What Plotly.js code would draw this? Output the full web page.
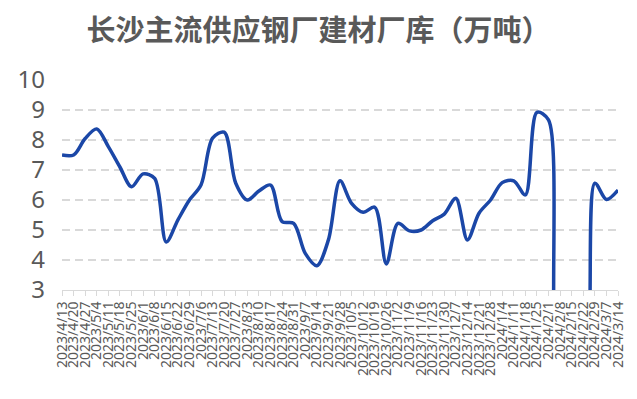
<!DOCTYPE html>
<html>
<head>
<meta charset="utf-8">
<script src="https://cdn.plot.ly/plotly-3.0.1.min.js"></script>
<style>
html,body{margin:0;padding:0;background:#fff;}
#chart{width:637px;height:399px;}
</style>
</head>
<body>
<div id="chart"></div>
<script>
const chartTitle = '长沙主流供应钢厂建材厂库（万吨）';

const dates = [
  '2023/4/13','2023/4/20','2023/4/27','2023/5/4','2023/5/11','2023/5/18','2023/5/25',
  '2023/6/1','2023/6/8','2023/6/15','2023/6/22','2023/6/29','2023/7/6','2023/7/13',
  '2023/7/20','2023/7/27','2023/8/3','2023/8/10','2023/8/17','2023/8/24','2023/8/31',
  '2023/9/7','2023/9/14','2023/9/21','2023/9/28','2023/10/5','2023/10/12','2023/10/19',
  '2023/10/26','2023/11/2','2023/11/9','2023/11/16','2023/11/23','2023/11/30','2023/12/7',
  '2023/12/14','2023/12/21','2023/12/28','2024/1/4','2024/1/11','2024/1/18','2024/1/25',
  '2024/2/1','2024/2/8','2024/2/15','2024/2/22','2024/2/29','2024/3/7','2024/3/14'
];

const stock = [
  7.5, 7.5, 8.05, 8.37, 7.78, 7.1, 6.44,
  6.87, 6.72, 4.6, 5.33, 6.0, 6.5, 8.06,
  8.26, 6.56, 6.0, 6.3, 6.5, 5.28, 5.22,
  4.22, 3.81, 4.67, 6.64, 5.89, 5.59, 5.76,
  3.87, 5.22, 4.97, 5.0, 5.31, 5.53, 6.06,
  4.67, 5.56, 6.0, 6.58, 6.64, 6.17, 8.92,
  8.67, 0, 0, 0, 6.56, 6.02, 6.33
];

const yTicks = [3, 4, 5, 6, 7, 8, 9, 10];

const trace = {
  type: 'scatter',
  mode: 'lines',
  x: dates,
  y: stock,
  line: {color: '#1B47A7', width: 3.5, shape: 'spline', smoothing: 0.9},
  hoverinfo: 'x+y'
};

const layout = {
  width: 637,
  height: 399,
  paper_bgcolor: '#ffffff',
  plot_bgcolor: '#ffffff',
  showlegend: false,
  margin: {l: 62, r: 19, t: 80, b: 109, pad: 0},
  title: {
    text: chartTitle,
    font: {family: '"Noto Sans CJK SC", sans-serif', size: 29, color: '#595959', weight: 'bold'},
    xref: 'container', yref: 'container',
    x: 0.5, xanchor: 'center',
    y: 0.922, yanchor: 'middle'
  },
  xaxis: {
    type: 'category',
    range: [0, dates.length - 1],
    tickmode: 'linear', tick0: 0, dtick: 1,
    tickangle: -90,
    tickfont: {family: '"Noto Sans", sans-serif', size: 14, color: '#595959'},
    showline: true, linecolor: '#d9d9d9', linewidth: 1,
    ticks: 'outside', ticklen: 5, tickcolor: '#d9d9d9', tickwidth: 1,
    showgrid: false, zeroline: false,
    automargin: false
  },
  yaxis: {
    range: [3, 10],
    tickmode: 'array', tickvals: yTicks,
    tickfont: {family: '"Noto Sans", sans-serif', size: 24, color: '#595959'},
    showgrid: true, gridcolor: '#d9d9d9', gridwidth: 1.5, griddash: '8px,5px',
    showline: false, zeroline: false, ticks: '',
    ticklabelstandoff: 16,
    automargin: false
  }
};

Plotly.newPlot('chart', [trace], layout, {displayModeBar: false, staticPlot: true});
</script>
</body>
</html>
